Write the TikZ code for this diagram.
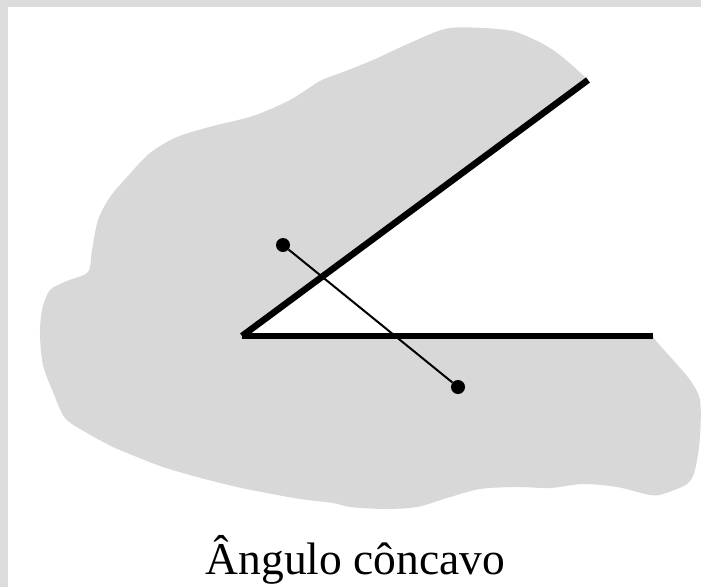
\documentclass[tikz,border=0pt]{standalone}
\usepackage{fontspec}
\setmainfont{Liberation Serif}
\usepackage{tikz}
\usetikzlibrary{positioning}
\definecolor{blobgray}{RGB}{216,216,216}
\definecolor{framegray}{RGB}{220,220,220}

\begin{document}
\begin{tikzpicture}[
    x=1pt, y=-1pt,
    blob/.style={fill=blobgray},
    ray/.style={line width=6.5pt, line cap=butt},
    chord/.style={line width=2pt},
    dot/.style={circle, fill=black, inner sep=0pt, minimum size=14pt},
    caption/.style={font=\fontsize{45.5}{52}\selectfont, anchor=base}
]
\useasboundingbox (0,0) rectangle (701,587);
\fill[white] (0,0) rectangle (701,587);

% region around the angle
\fill[blob] (242,336) -- plot[smooth, tension=0.5] coordinates {
    (588,80) (573,66) (553,50) (533,39) (507,30) (450,28) (410,43)
    (373,60) (343,72) (320,81) (290,100) (253,116) (213,126) (177,137)
    (150,153) (127,177) (110,197) (98,220) (92,250) (88,272) (67,281)
    (50,290) (42,310) (40,335) (43,365) (53,392) (65,418) (87,433)
    (113,447) (137,457) (163,467) (197,477) (237,487) (267,493) (300,499)
    (333,503) (350,507) (385,509) (417,507) (447,498) (480,489) (517,487)
    (550,488) (583,484) (617,487) (650,495) (663,494) (687,484) (695,470)
    (700,437) (700,400) (690,380) (673,360) (657,342) (653,336)} -- cycle;

% frame
\fill[framegray] (0,0) rectangle (701,7);
\fill[framegray] (0,0) rectangle (8,587);

\coordinate (V) at (242,336);
\coordinate (A) at (588,80);
\coordinate (B) at (653,336);
\draw[ray] (V) -- (A);
\draw[ray] (V) -- (B);

\node[dot] (P) at (283,245) {};
\node[dot] (Q) at (458,387) {};
\draw[chord] (P) -- (Q);

\node[caption] (lbl) at (355.5,574) {Ângulo côncavo};
\end{tikzpicture}
\end{document}
